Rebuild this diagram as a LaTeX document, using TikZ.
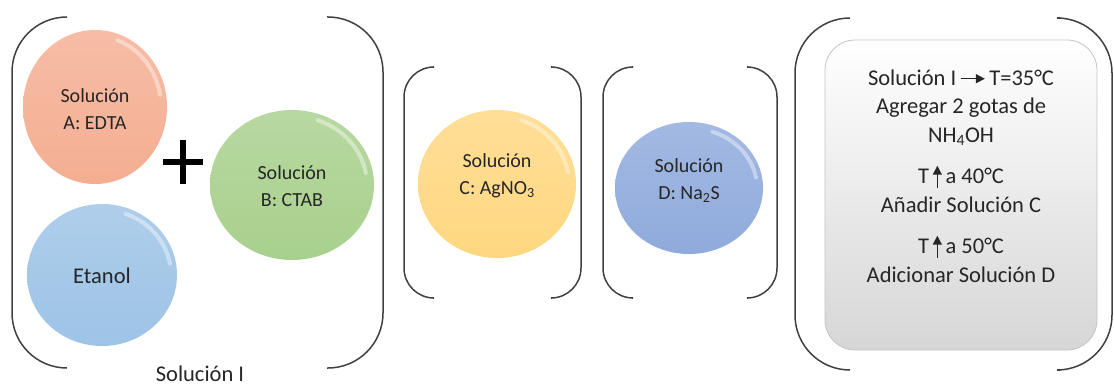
\documentclass[tikz,border=0pt]{standalone}
\usepackage{fontspec}
\setmainfont{Carlito}
\usetikzlibrary{shapes.geometric,arrows.meta,calc}
\definecolor{salmon}{HTML}{F4AE92}
\definecolor{grn}{HTML}{A8D08D}
\definecolor{blu}{HTML}{9DC3E6}
\definecolor{yel}{HTML}{FFD780}
\definecolor{pur}{HTML}{8FAADC}
\definecolor{brk}{HTML}{404040}
\definecolor{txt}{HTML}{262626}
\definecolor{boxedge}{HTML}{C4C4C4}
\definecolor{boxbot}{HTML}{D6D6D6}
\definecolor{boxmid}{HTML}{F3F3F3}
\newcommand{\rarrowsym}{\tikz[reset cm,baseline=0pt]\draw[txt,line width=1.5pt,-{Triangle[length=9pt,width=9pt]}] (0pt,6.5pt) -- (24pt,6.5pt);}
\newcommand{\uarrowsym}{\tikz[reset cm,baseline=0pt]\draw[txt,line width=1.5pt,-{Triangle[length=9pt,width=9pt]}] (0pt,-4pt) -- (0pt,18pt);}
\tikzset{
  bracket/.style={draw=brk,line width=1.5pt},
  ball/.style={ellipse,inner sep=0pt,draw=none},
  balltext/.style={text=txt,align=center,font=\fontsize{20}{27}\selectfont,inner sep=0pt},
  hl/.style={white,opacity=0.4,line width=4pt,line cap=round},
}
\begin{document}
\begin{tikzpicture}[x=1pt,y=-1pt]
\useasboundingbox (0,0) rectangle (1114,385);
% brackets
\draw[bracket,rounded corners=55pt] (67,17) -| (12,368) -- (67,368);
\draw[bracket,rounded corners=55pt] (327,17) -| (383,368) -- (327,368);
\draw[bracket,rounded corners=30pt] (433,67) -| (404,298) -- (433,298);
\draw[bracket,rounded corners=30pt] (552,67) -| (581,298) -- (552,298);
\draw[bracket,rounded corners=30pt] (632,67) -| (603,298) -- (632,298);
\draw[bracket,rounded corners=30pt] (748,67) -| (777,298) -- (748,298);
\draw[bracket,rounded corners=55pt] (850,18) -| (795,370) -- (850,370);
\draw[bracket,rounded corners=55pt] (1060,18) -| (1112,370) -- (1060,370);
% balls
\node[ball,top color=salmon!82!white,bottom color=salmon,minimum width=144pt,minimum height=154pt] (a) at (95,107) {};
\node[ball,top color=grn!82!white,bottom color=grn,minimum width=164pt,minimum height=150pt] (b) at (292,185) {};
\node[ball,top color=blu!82!white,bottom color=blu,minimum width=150pt,minimum height=142pt] (e) at (102,275) {};
\node[ball,top color=yel!82!white,bottom color=yel,minimum width=158pt,minimum height=148pt] (c) at (497,184) {};
\node[ball,top color=pur!82!white,bottom color=pur,minimum width=148pt,minimum height=132pt] (d) at (689,188) {};
% highlights
\draw[hl] ([shift={(10:66pt and 71pt)}]a.center) arc[start angle=10,end angle=70,x radius=66pt,y radius=71pt];
\draw[hl] ([shift={(10:75pt and 69pt)}]b.center) arc[start angle=10,end angle=70,x radius=75pt,y radius=69pt];
\draw[hl] ([shift={(10:69pt and 65pt)}]e.center) arc[start angle=10,end angle=70,x radius=69pt,y radius=65pt];
\draw[hl] ([shift={(10:72pt and 68pt)}]c.center) arc[start angle=10,end angle=70,x radius=72pt,y radius=68pt];
\draw[hl] ([shift={(10:68pt and 60pt)}]d.center) arc[start angle=10,end angle=70,x radius=68pt,y radius=60pt];
% ball texts
\node[balltext] (at) at (95,109) {Solución\\A: EDTA};
\node[balltext] (bt) at (292,186) {Solución\\B: CTAB};
\node[balltext,font=\fontsize{22.5}{27}\selectfont] (et) at (102,276) {Etanol};
\node[balltext] (ct) at (497,176) {Solución\\C: AgNO\textsubscript{3}};
\node[balltext] (dt) at (689,181) {Solución\\D: Na\textsubscript{2}S};
% plus
\draw[black,line width=5.5pt] (163,162) -- (203,162) (183,140) -- (183,184);
% label
\node[text=txt,font=\fontsize{22.5}{27}\selectfont,anchor=base,inner sep=0pt] (sol) at (200,381) {Solución I};
% box
\node[draw=boxedge,line width=0.8pt,rounded corners=30pt,top color=white,middle color=boxmid,bottom color=boxbot,minimum width=272pt,minimum height=310pt] (box) at (961,195) {};
\node[text=txt,align=center,font=\fontsize{22.5}{28.5}\selectfont,inner sep=0pt] (steps) at (961,176)
{Solución I\,\rarrowsym\,T=35°C\\Agregar 2 gotas de\\NH\textsubscript{4}OH\\[13pt]T\,\uarrowsym\,a 40°C\\Añadir Solución C\\[13pt]T\,\uarrowsym\,a 50°C\\Adicionar Solución D};
\end{tikzpicture}
\end{document}
